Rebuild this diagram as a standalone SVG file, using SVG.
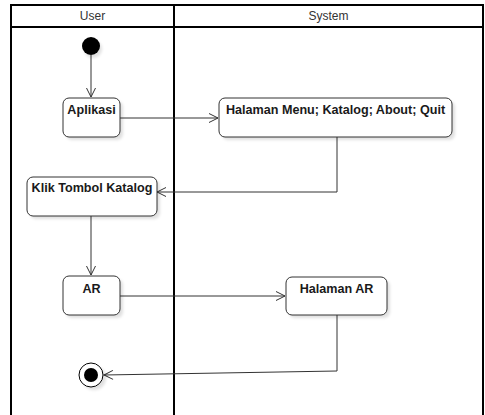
<svg xmlns="http://www.w3.org/2000/svg" width="485" height="415" viewBox="0 0 485 415">
<defs>
<marker id="open" markerWidth="12" markerHeight="12" refX="10" refY="6" orient="auto" markerUnits="userSpaceOnUse">
<path d="M1,1.5 L10,6 L1,10.5" fill="none" stroke="#333" stroke-width="1"/>
</marker>
<filter id="sh" x="-20%" y="-20%" width="140%" height="140%"><feGaussianBlur stdDeviation="1.5"/></filter>
</defs>
<style>
.lane{fill:none;stroke:#000;stroke-width:2}
.hd{font-family:"Liberation Sans",Arial,sans-serif;font-size:12px;fill:#333;text-anchor:middle}
.box{fill:#fff;stroke:#333;stroke-width:1}
.shadow{fill:#000;opacity:0.12;filter:url(#sh)}
.lbl{font-family:"Liberation Sans",Arial,sans-serif;font-size:12.6px;font-weight:bold;fill:#1a1a1a;text-anchor:middle}
.edge{fill:none;stroke:#333;stroke-width:1;marker-end:url(#open)}
</style>
<rect width="485" height="415" fill="#fff"/>
<g id="swimlanes">
<path class="lane" d="M11,416 V5 H483 V416 M174,5 V416 M11,27 H483"/>
<text class="hd" x="92.5" y="20">User</text>
<text class="hd" x="328.5" y="20">System</text>
</g>
<g id="edges">
<path class="edge" d="M91,55 V97"/>
<path class="edge" d="M120,118 H218"/>
<path class="edge" d="M337,137 V192 H157"/>
<path class="edge" d="M91,216 V275"/>
<path class="edge" d="M120,296 H285"/>
<path class="edge" d="M337,315 V371 L104,375"/>
</g>
<g id="start">
<circle cx="93" cy="49" r="9" class="shadow"/>
<circle cx="91" cy="46" r="9" fill="#000"/>
</g>
<g id="aplikasi">
<rect class="shadow" x="66" y="101" width="57" height="39" rx="6"/>
<rect class="box" x="63" y="98" width="57" height="39" rx="6"/>
<text class="lbl" x="91.5" y="114">Aplikasi</text>
</g>
<g id="halaman-menu">
<rect class="shadow" x="222" y="101" width="233" height="39" rx="6"/>
<rect class="box" x="219" y="98" width="233" height="39" rx="6"/>
<text class="lbl" x="335.5" y="114">Halaman Menu; Katalog; About; Quit</text>
</g>
<g id="klik-katalog">
<rect class="shadow" x="30" y="180" width="130" height="39" rx="6"/>
<rect class="box" x="27" y="177" width="130" height="39" rx="6"/>
<text class="lbl" x="92" y="192">Klik Tombol Katalog</text>
</g>
<g id="ar">
<rect class="shadow" x="66" y="279" width="57" height="39" rx="6"/>
<rect class="box" x="63" y="276" width="57" height="39" rx="6"/>
<text class="lbl" x="91.5" y="293">AR</text>
</g>
<g id="halaman-ar">
<rect class="shadow" x="289" y="280" width="101" height="38" rx="6"/>
<rect class="box" x="286" y="277" width="101" height="38" rx="6"/>
<text class="lbl" x="336.5" y="293">Halaman AR</text>
</g>
<g id="end">
<circle cx="94" cy="378" r="12" class="shadow"/>
<circle cx="91" cy="375" r="12" fill="#fff" stroke="#000" stroke-width="1"/>
<circle cx="91" cy="375" r="7" fill="#000"/>
</g>
</svg>
